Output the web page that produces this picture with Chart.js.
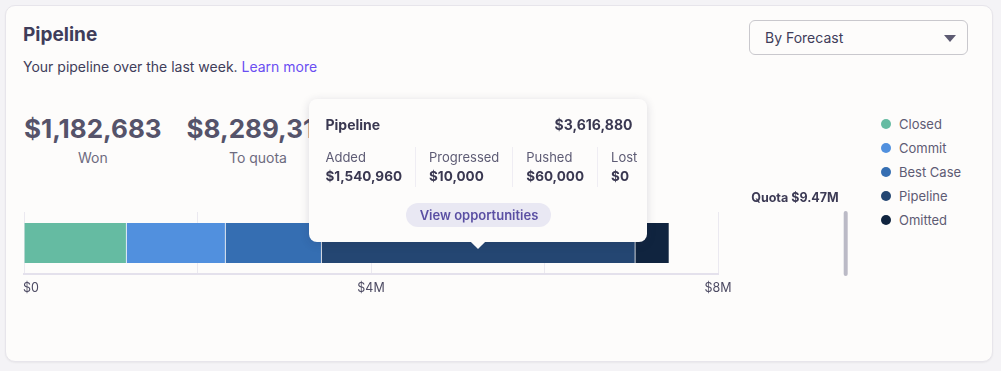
<!DOCTYPE html>
<html>
<head>
<meta charset="utf-8">
<script src="https://cdn.jsdelivr.net/npm/chart.js@4.4.1/dist/chart.umd.min.js"></script>
<style>
  body { margin: 0; width: 1001px; height: 371px; background: #f4f3f6; font-family: Inter, "Noto Sans", sans-serif; color: #3d3b56; overflow: hidden; position: relative; }
  .card { position: absolute; left: 5px; top: 5px; width: 986px; height: 355px; background: #fdfcfb; border: 1px solid #e7e5eb; border-radius: 10px; box-shadow: 0 1px 2px rgba(0,0,0,0.05); }
  .title { position: absolute; left: 23px; top: 23px; font-size: 19px; line-height: 24px; font-weight: 700; color: #3f3d5a; }
  .sub { position: absolute; left: 23px; top: 58px; font-size: 14px; line-height: 18px; color: #3f3d5a; }
  .sub a { color: #6a4ef2; text-decoration: none; }
  .select { position: absolute; left: 749px; top: 20px; width: 217px; height: 33px; border: 1px solid #c9c8cd; border-radius: 6px; font-size: 14px; line-height: 33px; color: #3f3d5a; box-sizing: content-box; }
  .select span { position: absolute; left: 15px; }
  .select i { position: absolute; left: 194px; top: 14px; width: 0; height: 0; border-left: 6px solid transparent; border-right: 6px solid transparent; border-top: 7px solid #5d5b72; }
  .stats { position: absolute; left: 24px; top: 113px; display: flex; gap: 25px; }
  .stat { text-align: center; }
  .stat b { display: block; font-size: 26px; line-height: 32px; font-weight: 700; color: #55536a; }
  .stat span { display: block; font-size: 14px; line-height: 18px; margin-top: 4px; color: #6d6b80; }
  #wrap { position: absolute; left: 5px; top: 178px; width: 860px; height: 134px; }
  .legend { position: absolute; left: 881px; top: 115px; }
  .legend div { height: 24px; font-size: 13px; line-height: 18px; color: #5d5b74; display: flex; align-items: flex-start; }
  .legend i { width: 10px; height: 10px; border-radius: 50%; margin: 4px 8px 0 0; }
  #tip { position: absolute; width: 338px; height: 143px; background: #fdfcfb; border-radius: 8px; box-shadow: 0 2px 10px rgba(40,36,70,0.16); transform: translate(-50%, -100%); opacity: 0; }
  #tip .head { position: absolute; left: 16px; right: 15px; top: 17px; font-size: 14px; line-height: 18px; font-weight: 700; color: #3a3851; display: flex; justify-content: space-between; }
  #tip .cols { position: absolute; left: 3px; top: 48px; display: flex; }
  #tip .col { padding: 0 13px; border-left: 1px solid #efedf3; height: 40px; }
  #tip .col:first-child { border-left: none; }
  #tip .col span { display: block; font-size: 13px; line-height: 18px; color: #5d5b74; margin-top: 1px; }
  #tip .col b { display: block; font-size: 13.5px; line-height: 20px; font-weight: 700; color: #3a3851; }
  #tip .btn { position: absolute; left: 97px; top: 104px; width: 145px; height: 24px; border-radius: 12px; background: #e9e8f3; color: #5a4fa3; font-size: 13px; font-weight: 600; line-height: 24px; text-align: center; }
  #tip .arrow { position: absolute; left: 50%; bottom: -5px; width: 10px; height: 10px; margin-left: -5px; background: #fdfcfb; transform: rotate(45deg); }
</style>
</head>
<body>
<div class="card"></div>
<div class="title">Pipeline</div>
<div class="sub">Your pipeline over the last week. <a href="#">Learn more</a></div>
<div class="select"><span>By Forecast</span><i></i></div>
<div class="stats" id="stats"></div>
<div id="wrap"><canvas id="pipelineChart"></canvas></div>
<div class="legend" id="legend"></div>
<div id="tip"></div>

<script>
// valores
var categorias = ['Closed', 'Commit', 'Best Case', 'Pipeline', 'Omitted'];
var valores = [1182683, 1141000, 1107000, 3616880, 392000];
var colores = ['#65bba2', '#5190de', '#356eb2', '#244672', '#10243f'];
var quota = 9472000;
var quotaLabel = 'Quota $9.47M';
var tickLabels = { 0: '$0', 4000000: '$4M', 8000000: '$8M' };

// detalle del tooltip de Pipeline
var detalleNombres = ['Added', 'Progressed', 'Pushed', 'Lost'];
var detalleValores = [1540960, 10000, 60000, 0];

function dinero(v) {
  return '$' + v.toLocaleString('en-US');
}

// numeros de arriba
var won = valores[0];
var stats = [[dinero(won), 'Won'], [dinero(quota - won), 'To quota']];
document.getElementById('stats').innerHTML = stats.map(function (s) {
  return '<div class="stat"><b>' + s[0] + '</b><span>' + s[1] + '</span></div>';
}).join('');

// leyenda
document.getElementById('legend').innerHTML = categorias.map(function (c, i) {
  return '<div><i style="background:' + colores[i] + '"></i>' + c + '</div>';
}).join('');

function tooltipExterno(context) {
  var tooltip = context.tooltip;
  var el = document.getElementById('tip');
  if (tooltip.opacity === 0 || !tooltip.dataPoints || !tooltip.dataPoints.length) {
    el.style.opacity = 0;
    return;
  }
  var punto = tooltip.dataPoints[0];
  var barra = punto.element;
  var cols = detalleNombres.map(function (n, i) {
    return '<div class="col"><span>' + n + '</span><b>' + dinero(detalleValores[i]) + '</b></div>';
  }).join('');
  el.innerHTML =
    '<div class="head"><span>' + punto.dataset.label + '</span><span>' + dinero(punto.raw) + '</span></div>' +
    '<div class="cols">' + cols + '</div>' +
    '<div class="btn">View opportunities</div>' +
    '<div class="arrow"></div>';
  // centro del segmento
  var cx = (barra.x + barra.base) / 2;
  var wrap = document.getElementById('wrap');
  el.style.left = (wrap.offsetLeft + cx) + 'px';
  el.style.top = (wrap.offsetTop + barra.y - 1) + 'px';
  el.style.opacity = 1;
}

// linea de la cuota
var quotaPlugin = {
  id: 'quotaPlugin',
  afterDraw: function (chart) {
    var ctx = chart.ctx;
    var x = chart.scales.x.getPixelForValue(quota);
    var area = chart.chartArea;
    ctx.save();
    ctx.fillStyle = '#bbbac6';
    ctx.beginPath();
    ctx.roundRect(x - 2, area.top - 1, 4, area.bottom - area.top + 3, 2);
    ctx.fill();
    ctx.fillStyle = '#3d3b55';
    ctx.font = '700 12.5px Inter';
    ctx.textAlign = 'right';
    ctx.textBaseline = 'middle';
    ctx.fillText(quotaLabel, x - 7, area.top - 14);
    ctx.restore();
  }
};

var datasets = categorias.map(function (c, i) {
  return {
    label: c,
    data: [valores[i]],
    backgroundColor: colores[i],
    borderColor: 'rgba(255,255,255,0.3)',
    borderWidth: { top: 0, bottom: 0, left: 0, right: 1 },
    borderSkipped: false,
    barThickness: 40
  };
});

var ctx = document.getElementById('pipelineChart').getContext('2d');
var chart = new Chart(ctx, {
  type: 'bar',
  data: { labels: ['Forecast'], datasets: datasets },
  options: {
    indexAxis: 'y',
    responsive: true,
    maintainAspectRatio: false,
    animation: false,
    events: [],
    layout: { padding: { left: 19, right: 147, top: 34, bottom: 9 } },
    plugins: {
      legend: { display: false },
      tooltip: { enabled: false, external: tooltipExterno }
    },
    scales: {
      x: {
        stacked: true,
        min: 0,
        max: 8000000,
        grid: { color: '#ebe9f0', drawTicks: false },
        border: { color: '#e4e1ec', width: 2 },
        afterFit: function (scale) {
          scale.paddingLeft = 0;
          scale.paddingRight = 0;
        },
        ticks: {
          stepSize: 2000000,
          padding: 7,
          maxRotation: 0,
          color: '#4d4b63',
          font: { family: 'Inter', size: 12.5 },
          callback: function (v) {
            var t = tickLabels[v] || '';
            // el $0 va alineado a la izquierda
            if (v === 0) t = '    ' + t;
            return t;
          }
        }
      },
      y: { stacked: true, display: false }
    }
  },
  plugins: [quotaPlugin]
});

chart.tooltip.setActiveElements([{ datasetIndex: 3, index: 0 }], { x: 0, y: 0 });
chart.update();
</script>
</body>
</html>
